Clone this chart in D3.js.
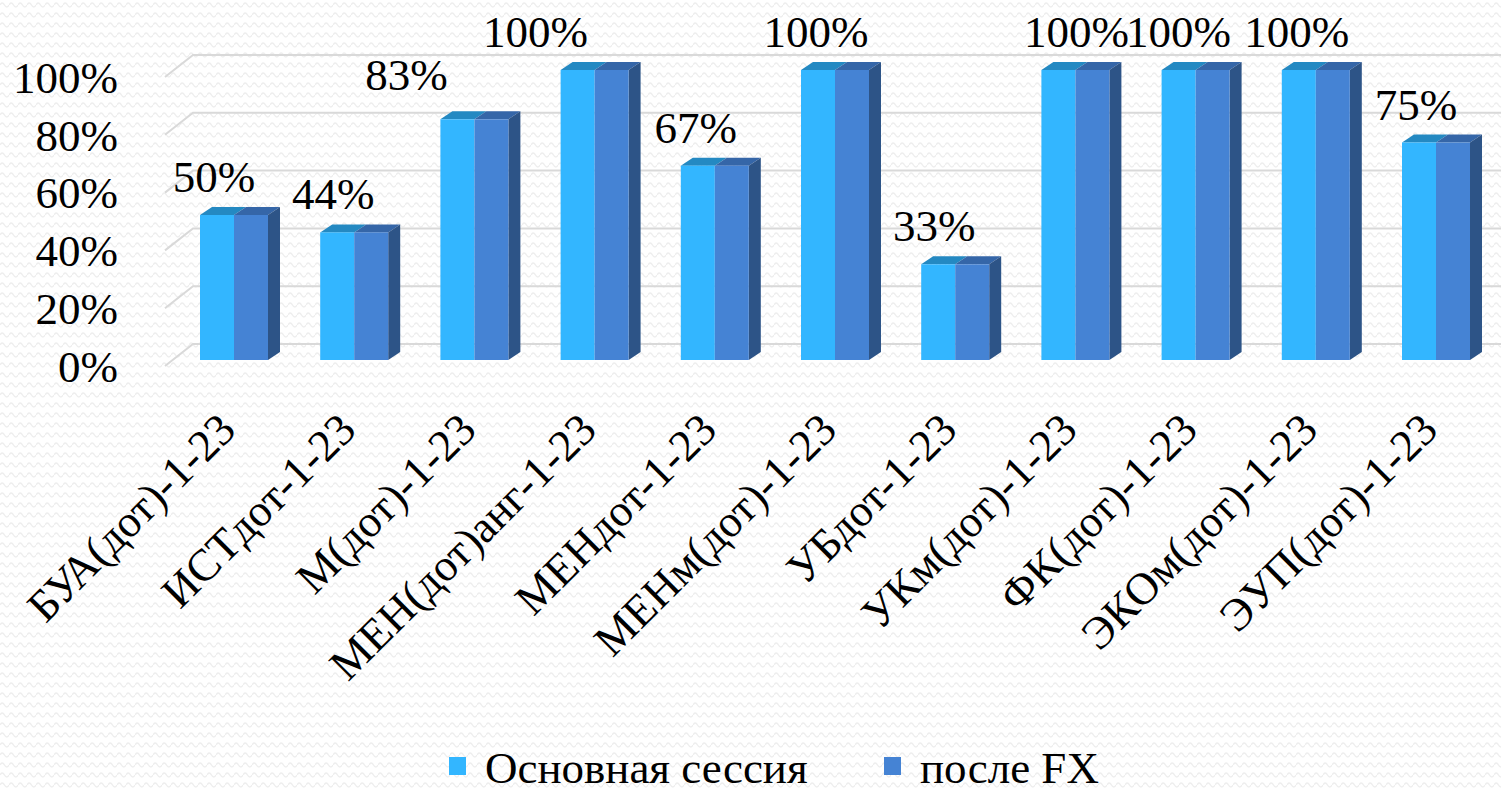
<!DOCTYPE html>
<html>
<head>
<meta charset="utf-8">
<script src="https://cdn.jsdelivr.net/npm/d3@7"></script>
<style>
  html, body { margin: 0; padding: 0; background: #fff; overflow: hidden; }
</style>
</head>
<body>
<svg id="chart" width="1501" height="788"></svg>
<script>
// categories and values
const groups = ['БУА(дот)-1-23', 'ИСТдот-1-23', 'М(дот)-1-23', 'МЕН(дот)анг-1-23', 'МЕНдот-1-23',
    'МЕНм(дот)-1-23', 'УБдот-1-23', 'УКм(дот)-1-23', 'ФК(дот)-1-23', 'ЭКОм(дот)-1-23', 'ЭУП(дот)-1-23'];
const seriesNames = ['Основная сессия', 'после FX'];
const mainSession = [0.50, 0.44, 0.83, 1.00, 0.67, 1.00, 0.33, 1.00, 1.00, 1.00, 0.75];
const afterFx = [0.50, 0.44, 0.83, 1.00, 0.67, 1.00, 0.33, 1.00, 1.00, 1.00, 0.75];
const yTicks = [0, 0.2, 0.4, 0.6, 0.8, 1.0];

// hand-moved data labels (pixels), as in the original chart
const labelNudgeX = [-3, -4, -51, -42, -2, -2, -4, 18, 0, -2, -3];
const labelNudgeY = [-23, -23, -29, -23, -23, -23, -23, -23, -23, -23, -23];

const frontColors = ['#33b6ff', '#4583d4'];
const topColors = ['#2489c2', '#3566a8'];
const sideColor = '#2d5487';
const serif = "'Liberation Serif', 'Times New Roman', 'DejaVu Serif', serif";

const svg = d3.select('#chart');

// wavy background texture
const defs = svg.append('defs');
const pat = defs.append('pattern')
    .attr('id', 'wave')
    .attr('patternUnits', 'userSpaceOnUse')
    .attr('width', 9).attr('height', 10);
pat.append('path')
    .attr('d', 'M0,5 Q2.25,1 4.5,5 T9,5')
    .attr('fill', 'none')
    .attr('stroke', '#eeeeee')
    .attr('stroke-width', 1.4);
svg.append('rect').attr('width', 1501).attr('height', 788).attr('fill', 'url(#wave)');

// title, almost entirely above the visible area
svg.append('text')
    .attr('x', 955).attr('y', -13)
    .attr('text-anchor', 'end')
    .style('font-family', serif)
    .style('font-size', '52px')
    .style('font-weight', 'bold')
    .text('Структура (итоги сессии)');

// scales: front plane of the bars and back wall of the grid
const yFront = d3.scaleLinear().domain([0, 1]).range([360, 70]);
const yBack = d3.scaleLinear().domain([0, 1]).range([344, 55]);
const wallDx = 28, wallDy = -22;
const x = d3.scalePoint().domain(groups).range([234, 1436]);
const xs = d3.scaleBand().domain(seriesNames).range([-34, 34]);
const depthX = 12, depthY = -8;

// gridlines with the diagonal side-wall piece
const grid = svg.append('g');
yTicks.forEach(function (t) {
    const yb = yBack(t);
    grid.append('path')
        .attr('d', 'M' + (193 - wallDx) + ',' + (yb - wallDy) + 'L193,' + yb + 'L1501,' + yb)
        .attr('fill', 'none')
        .attr('stroke', '#d9d9d9')
        .attr('stroke-width', 2);
    grid.append('text')
        .attr('x', 118)
        .attr('y', yb - wallDy)
        .attr('dy', '0.35em')
        .attr('text-anchor', 'end')
        .style('font-family', serif)
        .style('font-size', '45px')
        .text(d3.format('.0%')(t));
});

// 3d bars
const data = [mainSession, afterFx];
const bars = svg.append('g');
groups.forEach(function (g, i) {
    data.forEach(function (vals, s) {
        const x0 = x(g) + xs(seriesNames[s]);
        const x1 = x0 + xs.bandwidth();
        const yt = yFront(vals[i]);
        const yb = yFront(0);
        // top face
        bars.append('path')
            .attr('d', 'M' + x0 + ',' + yt + 'L' + (x0 + depthX) + ',' + (yt + depthY)
                + 'L' + (x1 + depthX) + ',' + (yt + depthY) + 'L' + x1 + ',' + yt + 'Z')
            .attr('fill', topColors[s]);
        // right side face, only visible on the right bar
        if (s === data.length - 1) {
            bars.append('path')
                .attr('d', 'M' + x1 + ',' + yt + 'L' + (x1 + depthX) + ',' + (yt + depthY)
                    + 'L' + (x1 + depthX) + ',' + (yb + depthY) + 'L' + x1 + ',' + yb + 'Z')
                .attr('fill', sideColor);
        }
        bars.append('rect')
            .attr('x', x0).attr('y', yt)
            .attr('width', xs.bandwidth()).attr('height', yb - yt)
            .attr('fill', frontColors[s]);
    });
});

// value labels (first series)
svg.append('g').selectAll('text')
    .data(groups)
    .join('text')
    .attr('x', function (d, i) { return x(d) + xs(seriesNames[0]) + xs.bandwidth() / 2 + labelNudgeX[i]; })
    .attr('y', function (d, i) { return yFront(mainSession[i]) + labelNudgeY[i]; })
    .attr('text-anchor', 'middle')
    .style('font-family', serif)
    .style('font-size', '45px')
    .text(function (d, i) { return d3.format('.0%')(mainSession[i]); });

// category labels, rotated
svg.append('g').selectAll('text')
    .data(groups)
    .join('text')
    .attr('transform', function (d) { return 'translate(' + (x(d) + 4) + ',432) rotate(-45)'; })
    .attr('text-anchor', 'end')
    .style('font-family', serif)
    .style('font-size', '45px')
    .text(function (d) { return d; });

// legend
const legend = svg.append('g');
const legendX = [449, 884];
seriesNames.forEach(function (n, s) {
    legend.append('rect')
        .attr('x', legendX[s]).attr('y', 757)
        .attr('width', 17).attr('height', 18)
        .attr('fill', frontColors[s]);
    legend.append('text')
        .attr('x', legendX[s] + 36).attr('y', 783)
        .style('font-family', serif)
        .style('font-size', '45px')
        .text(n);
});
</script>
</body>
</html>
